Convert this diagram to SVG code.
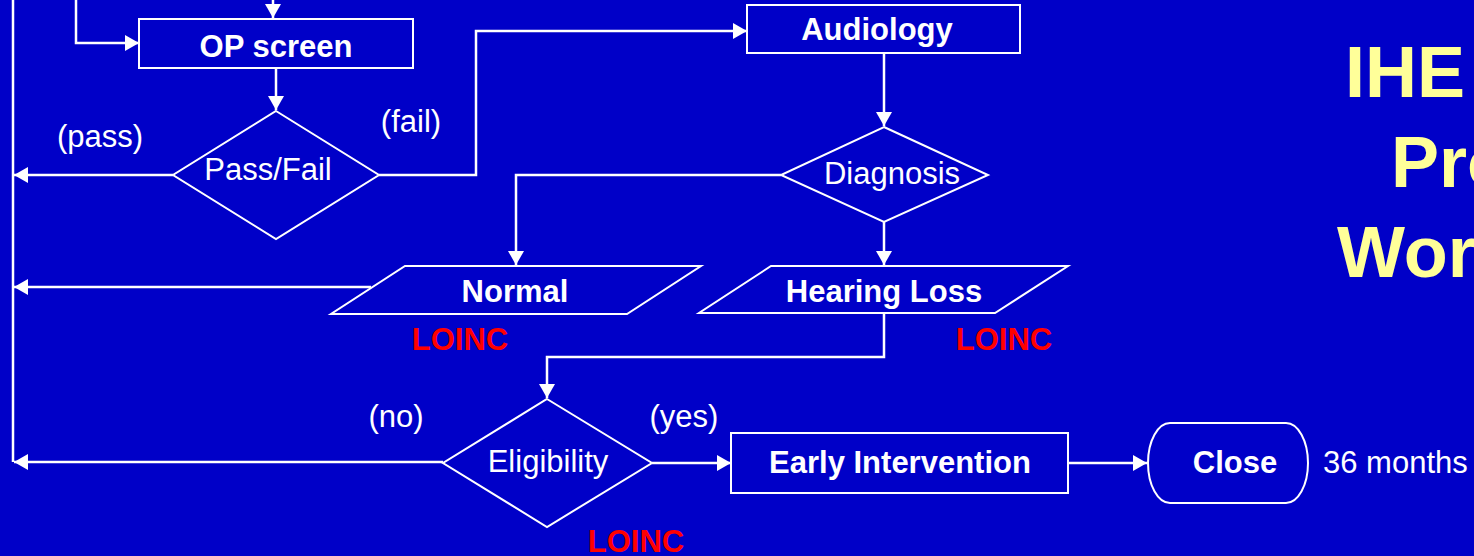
<svg xmlns="http://www.w3.org/2000/svg" width="1474" height="556" viewBox="0 0 1474 556">
  <defs>
    <marker id="arrow" markerUnits="userSpaceOnUse" markerWidth="15" markerHeight="16" refX="14" refY="8" orient="auto">
      <path d="M0,0 L14,8 L0,16 z" fill="#FFFFFF"/>
    </marker>
    <style>
      .bg { fill: #0000C8; }
      .shape { fill: none; stroke: #FFFFFF; stroke-width: 2; }
      .conn { fill: none; stroke: #FFFFFF; stroke-width: 2.5; }
      .arr { marker-end: url(#arrow); }
      .lbl { font-family: "Liberation Sans", Arial, sans-serif; font-size: 31px; fill: #FFFFFF; text-anchor: middle; }
      .b { font-weight: bold; }
      .loinc { font-family: "Liberation Sans", Arial, sans-serif; font-size: 31px; font-weight: bold; fill: #FF0000; text-anchor: middle; }
      .title { font-family: "Liberation Sans", Arial, sans-serif; font-size: 72px; font-weight: bold; fill: #FFFF99; }
    </style>
  </defs>
  <rect class="bg" x="0" y="0" width="1474" height="556"/>

  <g id="title">
    <text class="title" x="1345" y="97">IHE</text>
    <text class="title" x="1391" y="187">Pro</text>
    <text class="title" x="1337" y="277">Wor</text>
  </g>

  <g id="connectors">
    <path class="conn" d="M13,0 L13,462"/>
    <path class="conn arr" d="M273,0 L273,18"/>
    <path class="conn arr" d="M76,0 L76,43 L139,43"/>
    <path class="conn arr" d="M276,68 L276,110"/>
    <path class="conn arr" d="M173,175 L14,175"/>
    <path class="conn arr" d="M379,175 L476,175 L476,31 L747,31"/>
    <path class="conn arr" d="M884,53 L884,126"/>
    <path class="conn arr" d="M781,175 L516,175 L516,265"/>
    <path class="conn arr" d="M884,222 L884,265"/>
    <path class="conn arr" d="M371,287 L14,287"/>
    <path class="conn arr" d="M884,313 L884,357 L547,357 L547,398"/>
    <path class="conn arr" d="M443,462 L14,462"/>
    <path class="conn arr" d="M652,463 L731,463"/>
    <path class="conn arr" d="M1068,463 L1147,463"/>
  </g>

  <g id="op-screen">
    <rect class="shape" x="139" y="19" width="274" height="49"/>
    <text class="lbl b" x="276" y="57">OP screen</text>
  </g>

  <g id="pass-fail">
    <polygon class="shape" points="276,111 379,175 276,239 173,175"/>
    <text class="lbl" x="268" y="180">Pass/Fail</text>
  </g>
  <g id="label-pass"><text class="lbl" x="100" y="147">(pass)</text></g>
  <g id="label-fail"><text class="lbl" x="411" y="132">(fail)</text></g>

  <g id="audiology">
    <rect class="shape" x="747" y="5" width="273" height="48"/>
    <text class="lbl b" x="877" y="40">Audiology</text>
  </g>

  <g id="diagnosis">
    <polygon class="shape" points="884,127 988,175 884,222 781,175"/>
    <text class="lbl" x="892" y="184">Diagnosis</text>
  </g>

  <g id="normal">
    <polygon class="shape" points="405,266 701,266 627,314 331,314"/>
    <text class="lbl b" x="515" y="302">Normal</text>
    <text class="loinc" x="460" y="350">LOINC</text>
  </g>

  <g id="hearing-loss">
    <polygon class="shape" points="771,266 1068,266 995,313 699,313"/>
    <text class="lbl b" x="884" y="302">Hearing Loss</text>
    <text class="loinc" x="1004" y="350">LOINC</text>
  </g>

  <g id="eligibility">
    <polygon class="shape" points="547,399 652,463 547,527 443,463"/>
    <text class="lbl" x="548" y="472">Eligibility</text>
    <text class="loinc" x="636" y="552">LOINC</text>
  </g>
  <g id="label-no"><text class="lbl" x="396" y="427">(no)</text></g>
  <g id="label-yes"><text class="lbl" x="684" y="427">(yes)</text></g>

  <g id="early-intervention">
    <rect class="shape" x="731" y="433" width="337" height="60"/>
    <text class="lbl b" x="900" y="473">Early Intervention</text>
  </g>

  <g id="close">
    <rect class="shape" x="1148" y="423" width="160" height="80" rx="22" ry="40"/>
    <text class="lbl b" x="1235" y="473">Close</text>
  </g>
  <g id="label-36-months">
    <text class="lbl" x="1323" y="473" style="text-anchor:start">36 months</text>
  </g>
</svg>
